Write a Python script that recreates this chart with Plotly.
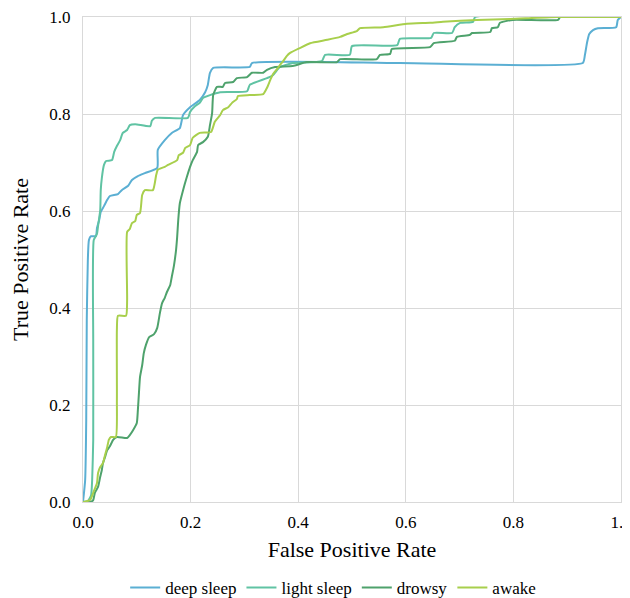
import plotly.graph_objects as go

series_names = ["deep sleep", "light sleep", "drowsy", "awake"]
series_colors = ["#5BAFD3", "#60C3A3", "#4EA26C", "#A8CF4C"]

deep_fpr = [0, 0.004, 0.006, 0.007, 0.009, 0.011, 0.015, 0.024, 0.026, 0.030, 0.033, 0.039, 0.045, 0.050,
            0.065, 0.072, 0.084, 0.091, 0.102, 0.115, 0.138, 0.139, 0.152, 0.165, 0.180, 0.186, 0.199,
            0.217, 0.227, 0.232, 0.236, 0.242, 0.310, 0.314, 0.589, 0.929, 0.933, 0.937, 0.941, 0.948,
            0.957, 0.991, 0.994, 1.0]
deep_tpr = [0, 0.045, 0.169, 0.375, 0.499, 0.540, 0.548, 0.548, 0.565, 0.581, 0.598, 0.610, 0.623, 0.631,
            0.635, 0.643, 0.652, 0.664, 0.672, 0.678, 0.689, 0.726, 0.746, 0.761, 0.771, 0.798, 0.814,
            0.829, 0.845, 0.860, 0.885, 0.895, 0.897, 0.905, 0.905, 0.905, 0.922, 0.948, 0.965, 0.973,
            0.977, 0.979, 0.994, 1.0]

light_fpr = [0, 0.009, 0.015, 0.017, 0.019, 0.019, 0.020, 0.026, 0.028, 0.032, 0.033, 0.035, 0.039, 0.043,
             0.054, 0.058, 0.063, 0.069, 0.074, 0.082, 0.087, 0.097, 0.125, 0.128, 0.134, 0.195, 0.199,
             0.208, 0.217, 0.223, 0.236, 0.255, 0.305, 0.310, 0.342, 0.353, 0.361, 0.366, 0.390, 0.444,
             0.450, 0.496, 0.500, 0.584, 0.589, 0.647, 0.652, 0.686, 0.691, 0.701, 0.725, 0.729, 1.0]
light_tpr = [0, 0.002, 0.014, 0.045, 0.128, 0.334, 0.540, 0.553, 0.569, 0.602, 0.643, 0.668, 0.695, 0.703,
             0.705, 0.722, 0.734, 0.746, 0.761, 0.767, 0.777, 0.779, 0.775, 0.786, 0.792, 0.792, 0.804,
             0.816, 0.823, 0.833, 0.839, 0.845, 0.847, 0.860, 0.874, 0.880, 0.891, 0.897, 0.905, 0.909,
             0.922, 0.922, 0.940, 0.942, 0.955, 0.957, 0.967, 0.967, 0.979, 0.988, 0.990, 1.0, 1.0]

drowsy_fpr = [0, 0.013, 0.019, 0.022, 0.028, 0.032, 0.035, 0.037, 0.041, 0.045, 0.050, 0.056, 0.063, 0.082,
              0.087, 0.093, 0.100, 0.102, 0.104, 0.106, 0.110, 0.113, 0.117, 0.123, 0.132, 0.138, 0.143,
              0.147, 0.152, 0.156, 0.162, 0.165, 0.169, 0.173, 0.175, 0.177, 0.180, 0.186, 0.193, 0.199,
              0.204, 0.212, 0.214, 0.223, 0.232, 0.236, 0.240, 0.242, 0.249, 0.260, 0.264, 0.279, 0.286,
              0.305, 0.314, 0.335, 0.342, 0.357, 0.390, 0.416, 0.472, 0.478, 0.546, 0.552, 0.571, 0.574,
              0.645, 0.652, 0.691, 0.695, 0.719, 0.723, 0.757, 0.760, 0.771, 0.775, 0.799, 0.883, 0.887, 1.0]
drowsy_tpr = [0, 0, 0.004, 0.019, 0.031, 0.052, 0.066, 0.080, 0.093, 0.107, 0.115, 0.128, 0.134, 0.132,
              0.138, 0.148, 0.163, 0.190, 0.225, 0.258, 0.282, 0.307, 0.324, 0.340, 0.346, 0.359, 0.390,
              0.410, 0.421, 0.433, 0.447, 0.464, 0.487, 0.520, 0.546, 0.581, 0.616, 0.643, 0.670, 0.691,
              0.705, 0.722, 0.736, 0.742, 0.753, 0.777, 0.802, 0.839, 0.856, 0.856, 0.864, 0.866, 0.874,
              0.876, 0.885, 0.885, 0.891, 0.897, 0.899, 0.907, 0.907, 0.913, 0.913, 0.922, 0.924, 0.934,
              0.938, 0.946, 0.951, 0.959, 0.963, 0.967, 0.969, 0.977, 0.979, 0.988, 0.994, 0.994, 1.0, 1.0]

awake_fpr = [0, 0.013, 0.019, 0.026, 0.028, 0.032, 0.037, 0.041, 0.045, 0.048, 0.052, 0.061, 0.063, 0.063,
             0.065, 0.080, 0.082, 0.082, 0.087, 0.091, 0.097, 0.100, 0.106, 0.110, 0.115, 0.130, 0.136,
             0.139, 0.152, 0.158, 0.175, 0.178, 0.186, 0.190, 0.199, 0.204, 0.217, 0.238, 0.245, 0.255,
             0.260, 0.270, 0.277, 0.286, 0.288, 0.310, 0.335, 0.342, 0.348, 0.353, 0.361, 0.366, 0.372,
             0.379, 0.385, 0.403, 0.422, 0.454, 0.478, 0.491, 0.509, 0.515, 0.558, 0.602, 0.645, 0.669,
             0.732, 0.794, 0.881, 1.0]
awake_tpr = [0, 0.004, 0.019, 0.039, 0.060, 0.072, 0.080, 0.097, 0.113, 0.128, 0.134, 0.134, 0.210, 0.355,
             0.384, 0.384, 0.416, 0.557, 0.563, 0.575, 0.579, 0.592, 0.596, 0.633, 0.643, 0.643, 0.674,
             0.685, 0.691, 0.695, 0.705, 0.715, 0.720, 0.730, 0.736, 0.751, 0.761, 0.763, 0.784, 0.798,
             0.808, 0.814, 0.823, 0.831, 0.837, 0.839, 0.841, 0.854, 0.870, 0.882, 0.893, 0.901, 0.909,
             0.920, 0.926, 0.936, 0.946, 0.953, 0.959, 0.965, 0.971, 0.977, 0.979, 0.986, 0.988, 0.990,
             0.994, 0.996, 1.0, 1.0]

x_ticks = [0.0, 0.2, 0.4, 0.6, 0.8, 1.0]
y_ticks = [0.0, 0.2, 0.4, 0.6, 0.8, 1.0]

all_fpr = [deep_fpr, light_fpr, drowsy_fpr, awake_fpr]
all_tpr = [deep_tpr, light_tpr, drowsy_tpr, awake_tpr]

FONT = "Liberation Serif"
GRID = "#d9d9d9"

fig = go.Figure()
for name, color, xs, ys in zip(series_names, series_colors, all_fpr, all_tpr):
    fig.add_trace(go.Scatter(
        x=xs, y=ys, mode="lines", name=name,
        line=dict(color=color, width=2, shape="spline", smoothing=0.5),
    ))

# page body has an 8px margin, so the figure is sized/offset to compensate
fig.update_layout(
    width=622, height=590,
    margin=dict(l=75, r=9, t=9, b=96, autoexpand=False),
    paper_bgcolor="white", plot_bgcolor="white",
    font=dict(family=FONT, color="#000000", size=17),
    showlegend=True,
    legend=dict(orientation="h", x=0.465, xanchor="center", y=-0.14, yanchor="top",
                font=dict(family=FONT, size=17, color="#000000"),
                itemwidth=30, tracegroupgap=0),
)
fig.update_xaxes(
    range=[0, 1], tickvals=x_ticks, tickformat=".1f",
    showgrid=True, gridcolor=GRID, gridwidth=1,
    showline=True, linecolor=GRID, linewidth=1, mirror=True,
    zeroline=False, ticks="", ticklabelstandoff=5, ticklabeloverflow="allow",
    tickfont=dict(family=FONT, size=17, color="#000000"),
    title=dict(text="False Positive Rate", font=dict(family=FONT, size=22, color="#000000"), standoff=10),
    automargin=False,
)
fig.update_yaxes(
    range=[0, 1], tickvals=y_ticks, tickformat=".1f",
    showgrid=True, gridcolor=GRID, gridwidth=1,
    showline=True, linecolor=GRID, linewidth=1, mirror=True,
    zeroline=False, ticks="", ticklabelstandoff=8, ticklabeloverflow="allow",
    tickfont=dict(family=FONT, size=17, color="#000000"),
    title=dict(text="True Positive Rate", font=dict(family=FONT, size=22, color="#000000"), standoff=16),
    automargin=False,
)

fig.write_html("out.html")
